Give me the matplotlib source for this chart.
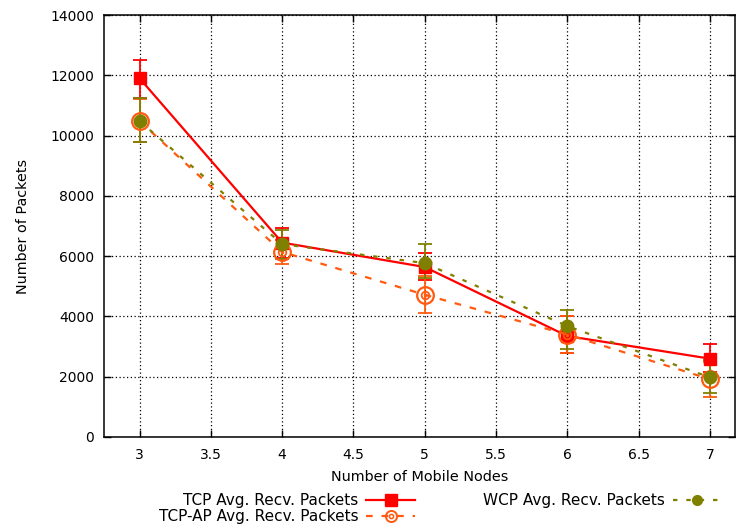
import numpy as np
import matplotlib
matplotlib.use('Agg')
from matplotlib import pyplot as plt
from matplotlib.lines import Line2D
from matplotlib.legend_handler import HandlerTuple

plt.rcParams['font.family'] = ['DejaVu Sans']
plt.rcParams['font.size'] = 10

nodes = [3, 4, 5, 6, 7]

tcp = [11900, 6450, 5640, 3350, 2600]
tcp_lo = [11250, 5950, 5200, 2800, 2150]
tcp_hi = [12520, 6950, 6100, 4000, 3100]

tcpap = [10480, 6140, 4720, 3400, 1920]
tcpap_lo = [9800, 5740, 4100, 2780, 1330]
tcpap_hi = [11200, 6550, 5340, 4000, 2500]

wcp = [10480, 6400, 5770, 3680, 1980]
wcp_lo = [9780, 5900, 5270, 2920, 1460]
wcp_hi = [11250, 6860, 6400, 4210, 2550]

RED = '#ff0000'
ORANGE = '#ff5a10'
OLIVE = '#808000'
AP_DASH = (0, (3, 4))
WCP_DASH = (0, (2, 4))


def errs(v, lo, hi):
    v = np.asarray(v)
    return [v - np.asarray(lo), np.asarray(hi) - v]


fig = plt.figure(figsize=(7.36, 5.30), dpi=100)
ax = fig.add_axes([0.1413, 0.1755, 0.858, 0.796])

# error bars first
for vals, lo, hi, col in [(tcp, tcp_lo, tcp_hi, RED),
                          (tcpap, tcpap_lo, tcpap_hi, ORANGE),
                          (wcp, wcp_lo, wcp_hi, OLIVE)]:
    ax.errorbar(nodes, vals, yerr=errs(vals, lo, hi), fmt='none',
                ecolor=col, elinewidth=1.3, capsize=5, capthick=1.3, zorder=3)

ax.plot(nodes, tcp, color=RED, lw=1.6, marker='s', ms=9,
        mfc=RED, mec=RED, zorder=4)
ax.plot(nodes, tcpap, color=ORANGE, lw=1.6, ls=AP_DASH, marker='o',
        ms=12, mfc='none', mec=ORANGE, mew=1.6, zorder=4)
ax.plot(nodes, tcpap, ls='none', marker='o', ms=5.5, mfc='none',
        mec=ORANGE, mew=1.3, zorder=4)
ax.plot(nodes, tcpap, ls='none', marker='o', ms=1.5, mfc=ORANGE,
        mec=ORANGE, zorder=4)
ax.plot(nodes, wcp, color=OLIVE, lw=1.6, ls=WCP_DASH, marker='o',
        ms=9, mfc=OLIVE, mec=OLIVE, zorder=5)

ax.set_xlim(2.75, 7.18)
ax.set_ylim(0, 14000)
ax.set_xticks([3, 3.5, 4, 4.5, 5, 5.5, 6, 6.5, 7])
ax.set_xticklabels(['3', '3.5', '4', '4.5', '5', '5.5', '6', '6.5', '7'])
ax.set_yticks(np.arange(0, 14001, 2000))
ax.grid(True, color='black', ls=(0, (1, 2)), lw=0.9)
ax.tick_params(direction='in', top=True, right=True, length=5, width=1)
ax.tick_params(axis='y', pad=7)
ax.tick_params(axis='x', pad=8)
for s in ax.spines.values():
    s.set_linewidth(1.1)

ax.set_xlabel('Number of Mobile Nodes', fontsize=10.4, labelpad=6)
ax.set_ylabel('Number of Packets', fontsize=10.4, labelpad=15)

# legend samples (smaller markers than on the plot)
h_tcp = Line2D([], [], color=RED, lw=1.6, marker='s', ms=8.5, mfc=RED, mec=RED)
h_ap = Line2D([], [], color=ORANGE, lw=1.6, ls=AP_DASH, marker='o', ms=8,
              mfc='none', mec=ORANGE, mew=1.4)
h_ap2 = Line2D([], [], ls='none', marker='o', ms=3, mfc='none',
               mec=ORANGE, mew=1.1)
h_wcp = Line2D([], [], color=OLIVE, lw=1.6, ls=WCP_DASH, marker='o', ms=7,
               mfc=OLIVE, mec=OLIVE)

leg = fig.legend([h_tcp, (h_ap, h_ap2), h_wcp],
                 ['TCP Avg. Recv. Packets', 'TCP-AP Avg. Recv. Packets',
                  'WCP Avg. Recv. Packets'],
                 handler_map={tuple: HandlerTuple(ndivide=1, pad=0)},
                 ncol=2, markerfirst=False, frameon=False, fontsize=11,
                 loc='upper left', bbox_to_anchor=(0.216, 0.069),
                 handlelength=3.2, handletextpad=0.5, columnspacing=4.45,
                 labelspacing=0.05, borderaxespad=0, borderpad=0)
for t in leg.get_texts():
    t.set_ha('right')

fig.savefig('out.png', dpi=100)
